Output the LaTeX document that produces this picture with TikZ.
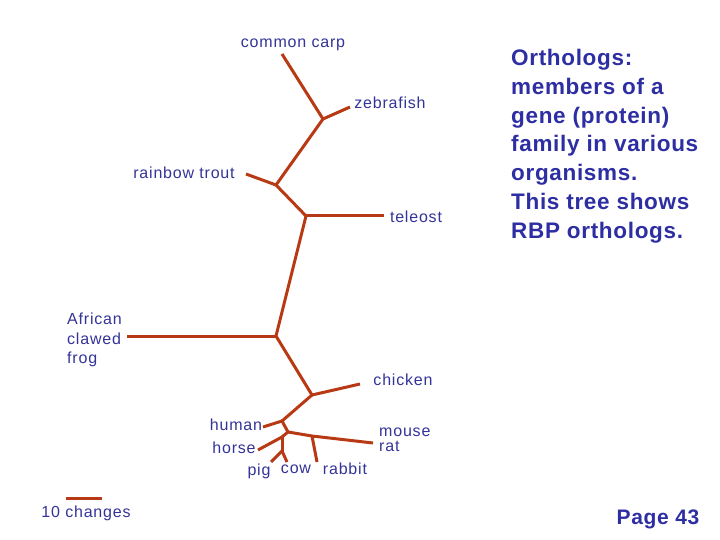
\documentclass[tikz,border=0pt]{standalone}
\usepackage{fontspec}
\setmainfont{Liberation Sans}
\newfontfamily\labfont[LetterSpace=5]{Liberation Sans}
\newfontfamily\notefont[LetterSpace=3]{Liberation Sans}
\definecolor{branch}{HTML}{B83A14}
\definecolor{lbl}{HTML}{333399}
\definecolor{note}{HTML}{2E2EA3}
\begin{document}
\begin{tikzpicture}[x=1pt,y=-1pt,
  br/.style={draw=branch,line width=3pt,line cap=butt,line join=round},
  lab/.style={text=lbl,font=\labfont\fontsize{16}{18}\selectfont,inner sep=0pt},
  notebox/.style={text=note,font=\notefont\fontsize{22.5}{28.8}\bfseries\selectfont,inner sep=0pt,align=left,anchor=north west},
]
\useasboundingbox (0,0) rectangle (720,540);
% tree coordinates
\coordinate (carp) at (282,54);
\coordinate (A) at (323,119);
\coordinate (zebra) at (350,107);
\coordinate (B) at (276,185);
\coordinate (trout) at (246,174);
\coordinate (C) at (306,216);
\coordinate (teleosttip) at (384,216);
\coordinate (D) at (276,336);
\coordinate (frogtip) at (127,336);
\coordinate (E) at (312,395);
\coordinate (chickentip) at (360,384);
\coordinate (F) at (282,421);
\coordinate (humantip) at (263,427);
\coordinate (G) at (288,432);
\coordinate (rodtip) at (373,443);
\coordinate (R) at (312,436);
\coordinate (rabbittip) at (317,462);
\coordinate (H) at (282,437);
\coordinate (horsetip) at (258,450);
\coordinate (I) at (282,451);
\coordinate (pigtip) at (271,462);
\coordinate (cowtip) at (287,462);
\coordinate (s1) at (66,498);
\coordinate (s2) at (102,498);
% branches
\draw[br] (carp) -- (A);
\draw[br] (A) -- (zebra);
\draw[br] (A) -- (B);
\draw[br] (B) -- (trout);
\draw[br] (B) -- (C);
\draw[br] (C) -- (teleosttip);
\draw[br] (C) -- (D);
\draw[br] (D) -- (frogtip);
\draw[br] (D) -- (E);
\draw[br] (E) -- (chickentip);
\draw[br] (E) -- (F);
\draw[br] (F) -- (humantip);
\draw[br] (F) -- (G);
\draw[br] (G) -- (R) -- (rodtip);
\draw[br] (R) -- (rabbittip);
\draw[br] (G) -- (H);
\draw[br] (H) -- (horsetip);
\draw[br] (H) -- (I);
\draw[br] (I) -- (pigtip);
\draw[br] (I) -- (cowtip);
\draw[br] (s1) -- (s2);
% labels
\node[lab] (lcarp) at (293,45) {common carp};
\node[lab] (lzebra) at (390,103) {zebrafish};
\node[lab] (ltrout) at (184,173) {rainbow trout};
\node[lab] (lteleost) at (416,217) {teleost};
\node[lab,align=left,anchor=north west,font=\labfont\fontsize{16}{19.5}\selectfont] (lfrog) at (67,313) {African\\clawed\\frog};
\node[lab] (lchicken) at (403,380) {chicken};
\node[lab] (lhuman) at (236,425) {human};
\node[lab] (lhorse) at (234,448) {horse};
\node[lab,anchor=west] (lmouse) at (379,432) {mouse};
\node[lab,anchor=west] (lrat) at (379,446.5) {rat};
\node[lab] (lpig) at (259,471) {pig};
\node[lab] (lcow) at (296,469) {cow};
\node[lab] (lrabbit) at (345,469) {rabbit};
\node[lab] (lscale) at (86,513) {10 changes};
% note
\node[notebox] (note) at (511,49) {Orthologs:\\members of a\\gene (protein)\\family in various\\organisms.\\This tree shows\\RBP orthologs.};
\node[text=note,font=\notefont\fontsize{21}{24}\bfseries\selectfont,inner sep=0pt] (page) at (658,519) {Page 43};
\end{tikzpicture}
\end{document}
